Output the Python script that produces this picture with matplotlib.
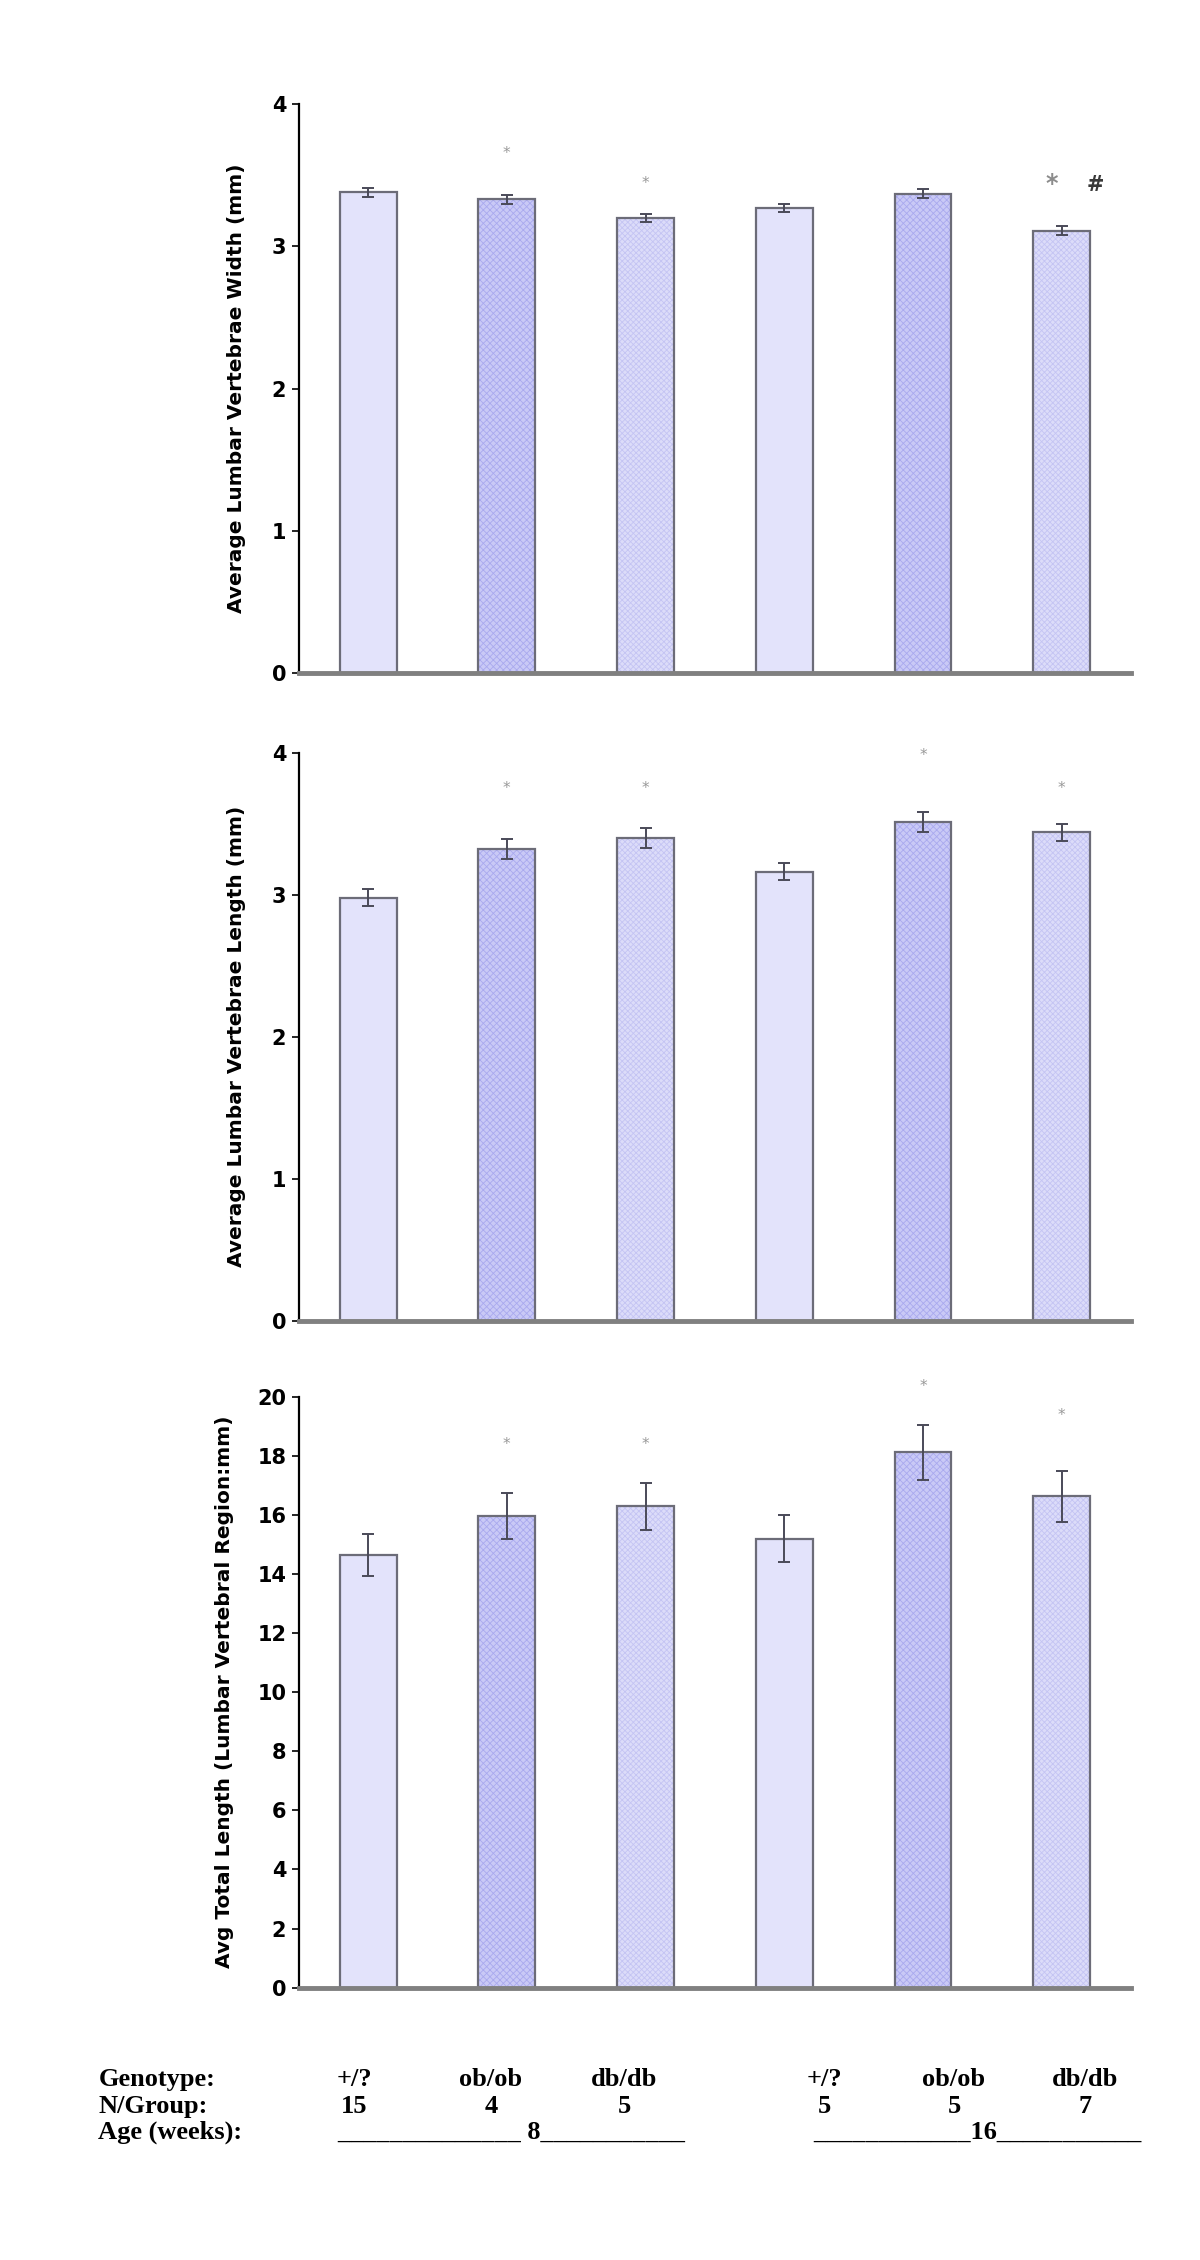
import numpy as np
import matplotlib
matplotlib.use("Agg")
import matplotlib.pyplot as plt

# groups (left to right): 8 wk +/?, ob/ob, db/db ; 16 wk +/?, ob/ob, db/db
genotypes = ["+/?", "ob/ob", "db/db", "+/?", "ob/ob", "db/db"]
n_group = ["15", "4", "5", "5", "5", "7"]

width_mean = [3.38, 3.33, 3.20, 3.27, 3.37, 3.11]
width_err = [0.03, 0.03, 0.03, 0.03, 0.03, 0.03]

length_mean = [2.98, 3.32, 3.40, 3.16, 3.51, 3.44]
length_err = [0.06, 0.07, 0.07, 0.06, 0.07, 0.06]

total_mean = [14.64, 15.96, 16.29, 15.20, 18.12, 16.63]
total_err = [0.70, 0.77, 0.80, 0.78, 0.93, 0.86]

# significance marks: (bar index, y value)
width_marks = [(1, 3.65), (2, 3.44)]
length_marks = [(1, 3.75), (2, 3.75), (4, 3.98), (5, 3.75)]
total_marks = [(1, 18.39), (2, 18.39), (4, 20.34), (5, 19.36)]

# fill colours / hatch per group style
fills = ["#e3e3fb", "#c9c9f6", "#dcdcf9", "#e3e3fb", "#c9c9f6", "#dcdcf9"]
hatches = [None, "xxxxx", "xxxxxx", None, "xxxxx", "xxxxxx"]
hatch_cols = [None, "#a9a9ee", "#c4c4f3", None, "#a9a9ee", "#c4c4f3"]

plt.rcParams["hatch.linewidth"] = 0.6
plt.rcParams["font.family"] = "DejaVu Sans"

fig = plt.figure(figsize=(12, 22.6), dpi=100)

x = np.arange(len(genotypes))
bar_w = 0.41


def draw_panel(rect, means, errs, ymax, step, ylabel, marks, label_x):
    ax = fig.add_axes(rect)
    for i in range(len(x)):
        if hatches[i]:
            ax.bar(x[i], means[i], bar_w, color=fills[i], hatch=hatches[i],
                   edgecolor=hatch_cols[i], linewidth=0, zorder=2)
        else:
            ax.bar(x[i], means[i], bar_w, color=fills[i], linewidth=0, zorder=2)
        ax.bar(x[i], means[i], bar_w, fill=False, edgecolor="#6c6c78",
               linewidth=1.6, zorder=3)
    ax.errorbar(x, means, yerr=errs, fmt="none", ecolor="#4a4a58",
                elinewidth=1.4, capsize=4, capthick=1.4, zorder=4)
    for i, yv in marks:
        ax.text(x[i], yv, "*", ha="center", va="center", fontsize=11,
                color="#999999")
    ax.set_xlim(-0.5, len(x) - 0.5)
    ax.set_ylim(0, ymax)
    ax.set_yticks(np.arange(0, ymax + step / 2, step))
    ax.set_xticks([])
    for s in ["top", "right"]:
        ax.spines[s].set_visible(False)
    ax.spines["left"].set_color("black")
    ax.spines["left"].set_linewidth(1.6)
    ax.spines["bottom"].set_color("#808080")
    ax.spines["bottom"].set_linewidth(3.5)
    ax.spines["bottom"].set_zorder(5)
    ax.tick_params(axis="y", direction="out", length=5, width=1.2,
                   labelsize=15, pad=4, colors="black")
    for lab in ax.get_yticklabels():
        lab.set_fontweight("bold")
    ax.set_ylabel(ylabel, fontsize=14.5, fontweight="bold")
    ax.yaxis.set_label_coords(label_x, 0.5)
    return ax


ax1 = draw_panel([0.249, 0.702, 0.6935, 0.252], width_mean, width_err, 4, 1,
                 "Average Lumbar Vertebrae Width (mm)", width_marks, -0.064)
ax1.text(x[5] - 0.07, 3.44, "*", ha="center", va="center", fontsize=17,
         color="#8c8c8c", fontweight="bold")
ax1.text(x[5] + 0.24, 3.43, "#", ha="center", va="center", fontsize=15,
         color="#3a3a3a", fontweight="bold")

ax2 = draw_panel([0.249, 0.4155, 0.6935, 0.2515], length_mean, length_err, 4, 1,
                 "Average Lumbar Vertebrae Length (mm)", length_marks, -0.064)

ax3 = draw_panel([0.249, 0.1205, 0.6935, 0.2615], total_mean, total_err, 20, 2,
                 "Avg Total Length (Lumbar Vertebral Region:mm)", total_marks,
                 -0.078)

# table of group info under the charts
col_x = [0.295, 0.409, 0.52, 0.687, 0.795, 0.904]
row_y = [0.080, 0.068, 0.0565]
serif = dict(family="Liberation Serif", fontweight="bold", fontsize=19)

fig.text(0.082, row_y[0], "Genotype:", ha="left", va="center", **serif)
fig.text(0.082, row_y[1], "N/Group:", ha="left", va="center", **serif)
fig.text(0.082, row_y[2], "Age (weeks):", ha="left", va="center", **serif)
for cx, g, n in zip(col_x, genotypes, n_group):
    fig.text(cx, row_y[0], g, ha="center", va="center", **serif)
    fig.text(cx, row_y[1], n, ha="center", va="center", **serif)

fig.text(0.281, row_y[2], "______________ 8___________", ha="left",
         va="center", **serif)
fig.text(0.678, row_y[2], "____________16___________", ha="left",
         va="center", **serif)

fig.savefig("out.png", dpi=100)
